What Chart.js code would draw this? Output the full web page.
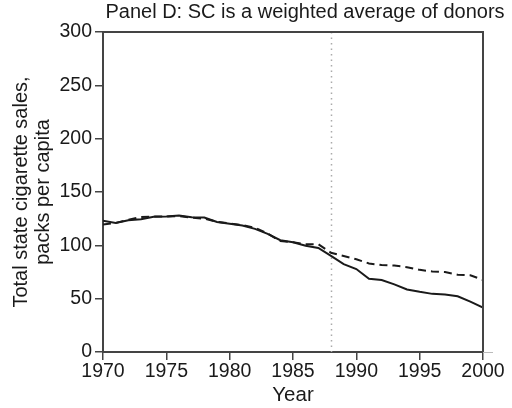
<!DOCTYPE html>
<html>
<head>
<meta charset="utf-8">
<script src="https://cdn.jsdelivr.net/npm/chart.js@4.4.0/dist/chart.umd.min.js"></script>
<style>
  html, body { margin: 0; padding: 0; background: #fff; }
  #wrap { width: 512px; height: 408px; }
</style>
</head>
<body>
<div id="wrap"><canvas id="myChart" width="512" height="408"></canvas></div>
<script>
var years = [1970,1971,1972,1973,1974,1975,1976,1977,1978,1979,1980,1981,1982,1983,1984,1985,
  1986,1987,1988,1989,1990,1991,1992,1993,1994,1995,1996,1997,1998,1999,2000];
var treated = [123.0,121.0,123.5,124.4,126.7,127.1,128.0,126.4,126.1,121.9,120.2,118.6,115.4,110.8,104.8,102.8,
  99.7,97.5,90.1,82.4,77.8,68.7,67.5,63.4,58.6,56.4,54.5,53.8,52.3,47.2,41.6];
var synthetic = [119.5,121.0,124.0,126.5,127.0,127.0,127.5,126.0,125.0,122.0,120.5,119.0,116.5,111.0,104.0,103.0,
  101.0,101.0,93.0,90.0,87.0,83.0,81.5,81.0,79.5,77.0,75.5,75.0,72.5,72.0,67.5];
var xTicks = [1970,1975,1980,1985,1990,1995,2000];
var treatYear = 1988;

var ink = '#1a1a1a';
var font = 'Liberation Sans, Arial, sans-serif';

function pts(vals) {
  return years.map(function (y, i) { return { x: y, y: vals[i] }; });
}

// box, dotted treatment line and title
var extras = {
  id: 'extras',
  beforeDatasetsDraw: function (chart) {
    var ctx = chart.ctx;
    var a = chart.chartArea;
    var xs = chart.scales.x;
    var px = Math.round(xs.getPixelForValue(treatYear)) + 0.5;
    ctx.save();
    ctx.strokeStyle = '#aaa';
    ctx.lineWidth = 1.5;
    ctx.setLineDash([1.5, 4]);
    ctx.beginPath();
    ctx.moveTo(px, a.top);
    ctx.lineTo(px, a.bottom);
    ctx.stroke();
    ctx.restore();
  },
  afterDraw: function (chart) {
    var ctx = chart.ctx;
    var a = chart.chartArea;
    ctx.save();
    ctx.strokeStyle = '#444';
    ctx.lineWidth = 2;
    ctx.beginPath();
    ctx.moveTo(a.left, a.top);
    ctx.lineTo(a.right, a.top);
    ctx.lineTo(a.right, a.bottom);
    ctx.stroke();
    ctx.strokeStyle = '#bbb';
    ctx.lineWidth = 1;
    ctx.beginPath();
    ctx.moveTo(a.right, a.bottom + 0.5);
    ctx.lineTo(a.right + 10, a.bottom + 0.5);
    ctx.stroke();
    ctx.fillStyle = ink;
    ctx.font = '20px ' + font;
    ctx.textAlign = 'center';
    ctx.textBaseline = 'middle';
    ctx.fillText('Panel D: SC is a weighted average of donors', 305, 12);
    ctx.restore();
  }
};

new Chart(document.getElementById('myChart'), {
  type: 'line',
  data: {
    datasets: [{
      label: 'Treated',
      data: pts(treated),
      borderColor: ink,
      borderWidth: 2,
      pointRadius: 0,
      fill: false,
      tension: 0
    }, {
      label: 'Synthetic control',
      data: pts(synthetic),
      borderColor: ink,
      borderWidth: 2,
      borderDash: [8, 5],
      pointRadius: 0,
      fill: false,
      tension: 0
    }]
  },
  options: {
    responsive: false,
    animation: false,
    layout: { padding: { left: 0, right: 29, top: 32, bottom: 0 } },
    plugins: { legend: { display: false }, title: { display: false }, tooltip: { enabled: false } },
    scales: {
      x: {
        type: 'linear',
        min: 1970,
        max: 2000,
        afterBuildTicks: function (s) { s.ticks = xTicks.map(function (v) { return { value: v }; }); },
        afterFit: function (s) { s.height = 56; },
        grid: { drawOnChartArea: false, drawTicks: true, tickLength: 8, color: '#444', lineWidth: 1.5 },
        border: { display: true, color: '#444', width: 2 },
        ticks: { color: ink, font: { family: font, size: 19.5 }, padding: 0, maxRotation: 0, autoSkip: false,
          callback: function (v) { return String(v); } },
        title: { display: true, text: 'Year', color: ink, font: { family: font, size: 20.5 }, padding: { top: 1, bottom: 0 } }
      },
      y: {
        min: 0,
        max: 300,
        ticks: { stepSize: 50, color: ink, font: { family: font, size: 19.5 }, padding: 3 },
        afterFit: function (s) { s.width = 103; },
        grid: { drawOnChartArea: false, drawTicks: true, tickLength: 8, color: '#444', lineWidth: 1.5 },
        border: { display: true, color: '#444', width: 2 },
        title: { display: true, text: ['Total state cigarette sales,', 'packs per capita'], color: ink,
          font: { family: font, size: 20, lineHeight: 1.1 }, padding: { top: 10, bottom: 0 } }
      }
    }
  },
  plugins: [extras]
});
</script>
</body>
</html>
